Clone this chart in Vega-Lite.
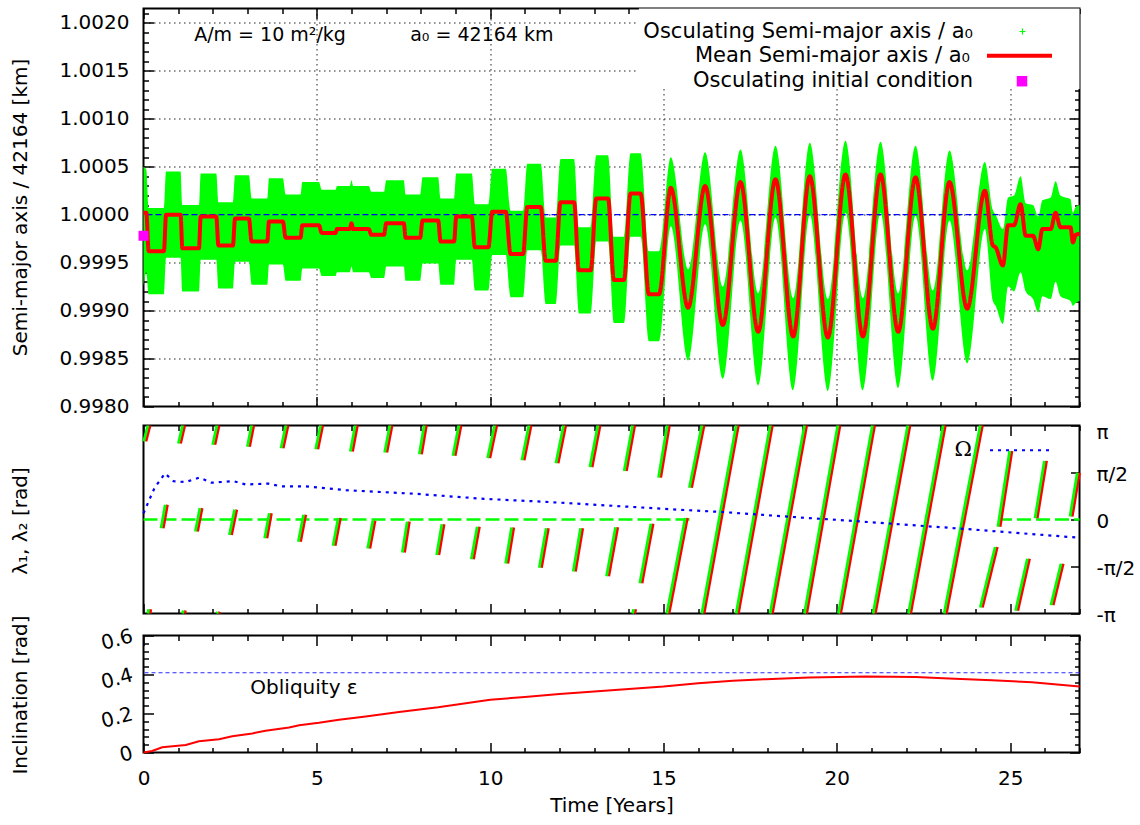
{
  "$schema": "https://vega.github.io/schema/vega-lite/v6.json",
  "padding": {"left": 8.5, "top": 6.5, "right": 0, "bottom": 0},
  "background": "white",
  "spacing": 19,
  "bounds": "flush",
  "config": {
    "font": "DejaVu Sans",
    "view": {"stroke": "#000000", "strokeWidth": 2},
    "axis": {"domain": false, "grid": false, "labelFont": "DejaVu Sans", "labelFontSize": 20, "labelColor": "#000000", "titleFont": "DejaVu Sans", "titleFontSize": 20, "titleFontWeight": "normal", "titleColor": "#000000", "tickColor": "#000000", "tickWidth": 1.5, "labelOverlap": false, "labelFlush": false, "zindex": 1},
    "legend": {"labelFont": "DejaVu Sans", "labelFontSize": 21, "labelColor": "#000000", "labelLimit": 0, "padding": 0, "title": null},
    "text": {"font": "DejaVu Sans", "fontSize": 20, "color": "#000000"}
  },
  "resolve": {"scale": {"color": "independent", "shape": "independent", "strokeDash": "independent"}, "legend": {"color": "independent", "shape": "independent", "strokeDash": "independent"}},
  "datasets": {
    "sma": [
      {"t": 0, "m": 1.00002, "hi": 1.0005, "lo": 0.99925},
      {"t": 0.08, "m": 1.00002, "hi": 1.00047, "lo": 0.9994},
      {"t": 0.15, "m": 0.99962, "hi": 1.00007, "lo": 0.99917},
      {"t": 0.59, "m": 0.99962, "hi": 1.00007, "lo": 0.99917},
      {"t": 0.65, "m": 1.0, "hi": 1.00045, "lo": 0.99955},
      {"t": 1.07, "m": 1.0, "hi": 1.00045, "lo": 0.99955},
      {"t": 1.12, "m": 0.99965, "hi": 1.0001, "lo": 0.9992},
      {"t": 1.6, "m": 0.99965, "hi": 1.0001, "lo": 0.9992},
      {"t": 1.65, "m": 0.99998, "hi": 1.00043, "lo": 0.99953},
      {"t": 2.1, "m": 0.99998, "hi": 1.00043, "lo": 0.99953},
      {"t": 2.16, "m": 0.99968, "hi": 1.00013, "lo": 0.99923},
      {"t": 2.58, "m": 0.99968, "hi": 1.00013, "lo": 0.99923},
      {"t": 2.64, "m": 0.99996, "hi": 1.00041, "lo": 0.99951},
      {"t": 3.04, "m": 0.99996, "hi": 1.00041, "lo": 0.99951},
      {"t": 3.12, "m": 0.99972, "hi": 1.00017, "lo": 0.99927},
      {"t": 3.57, "m": 0.99972, "hi": 1.00017, "lo": 0.99927},
      {"t": 3.62, "m": 0.99993, "hi": 1.00038, "lo": 0.99948},
      {"t": 4.02, "m": 0.99993, "hi": 1.00038, "lo": 0.99948},
      {"t": 4.1, "m": 0.99976, "hi": 1.00021, "lo": 0.99931},
      {"t": 4.53, "m": 0.99976, "hi": 1.00021, "lo": 0.99931},
      {"t": 4.58, "m": 0.99989, "hi": 1.00034, "lo": 0.99944},
      {"t": 5.06, "m": 0.99989, "hi": 1.00034, "lo": 0.99944},
      {"t": 5.14, "m": 0.99981, "hi": 1.00026, "lo": 0.99936},
      {"t": 5.54, "m": 0.99981, "hi": 1.00026, "lo": 0.99936},
      {"t": 5.58, "m": 0.99985, "hi": 1.0003, "lo": 0.9994},
      {"t": 5.95, "m": 0.99985, "hi": 1.0003, "lo": 0.9994},
      {"t": 6.0, "m": 0.99991, "hi": 1.00036, "lo": 0.99946},
      {"t": 6.05, "m": 0.99985, "hi": 1.0003, "lo": 0.9994},
      {"t": 6.5, "m": 0.99985, "hi": 1.0003, "lo": 0.9994},
      {"t": 6.57, "m": 0.99979, "hi": 1.00024, "lo": 0.99934},
      {"t": 6.94, "m": 0.99979, "hi": 1.00024, "lo": 0.99934},
      {"t": 7.0, "m": 0.99991, "hi": 1.00036, "lo": 0.99946},
      {"t": 7.51, "m": 0.99991, "hi": 1.00036, "lo": 0.99946},
      {"t": 7.56, "m": 0.99976, "hi": 1.00021, "lo": 0.99931},
      {"t": 7.98, "m": 0.99976, "hi": 1.00021, "lo": 0.99931},
      {"t": 8.05, "m": 0.99994, "hi": 1.00039, "lo": 0.99949},
      {"t": 8.5, "m": 0.99994, "hi": 1.00039, "lo": 0.99949},
      {"t": 8.57, "m": 0.99972, "hi": 1.00017, "lo": 0.99927},
      {"t": 8.96, "m": 0.99972, "hi": 1.00017, "lo": 0.99927},
      {"t": 9.02, "m": 0.99998, "hi": 1.00043, "lo": 0.99953},
      {"t": 9.47, "m": 0.99998, "hi": 1.00043, "lo": 0.99953},
      {"t": 9.56, "m": 0.99966, "hi": 1.00011, "lo": 0.99921},
      {"t": 9.95, "m": 0.99966, "hi": 1.00011, "lo": 0.99921},
      {"t": 10.06, "m": 1.00003, "hi": 1.00048, "lo": 0.99958},
      {"t": 10.45, "m": 1.00003, "hi": 1.00048, "lo": 0.99958},
      {"t": 10.59, "m": 0.99959, "hi": 1.00004, "lo": 0.99914},
      {"t": 10.95, "m": 0.99959, "hi": 1.00004, "lo": 0.99914},
      {"t": 11.07, "m": 1.00008, "hi": 1.00053, "lo": 0.99963},
      {"t": 11.46, "m": 1.00008, "hi": 1.00053, "lo": 0.99963},
      {"t": 11.6, "m": 0.99952, "hi": 0.99997, "lo": 0.99907},
      {"t": 11.89, "m": 0.99952, "hi": 0.99997, "lo": 0.99907},
      {"t": 12.03, "m": 1.00013, "hi": 1.00058, "lo": 0.99968},
      {"t": 12.42, "m": 1.00013, "hi": 1.00058, "lo": 0.99968},
      {"t": 12.56, "m": 0.99942, "hi": 0.99987, "lo": 0.99897},
      {"t": 12.9, "m": 0.99942, "hi": 0.99987, "lo": 0.99897},
      {"t": 13.06, "m": 1.00017, "hi": 1.00062, "lo": 0.99972},
      {"t": 13.4, "m": 1.00017, "hi": 1.00062, "lo": 0.99972},
      {"t": 13.57, "m": 0.99932, "hi": 0.99977, "lo": 0.99887},
      {"t": 13.86, "m": 0.99932, "hi": 0.99977, "lo": 0.99887},
      {"t": 14.05, "m": 1.00022, "hi": 1.00064, "lo": 0.99977},
      {"t": 14.34, "m": 1.00022, "hi": 1.00064, "lo": 0.99977},
      {"t": 14.58, "m": 0.99917, "hi": 0.99962, "lo": 0.99868},
      {"t": 14.87, "m": 0.99917, "hi": 0.99962, "lo": 0.99868},
      {"t": 15.21, "m": 1.00028, "hi": 1.0006, "lo": 0.99988},
      {"t": 15.71, "m": 0.99903, "hi": 0.99943, "lo": 0.99848},
      {"t": 16.2, "m": 1.0003, "hi": 1.00065, "lo": 0.9999},
      {"t": 16.71, "m": 0.99885, "hi": 0.99925, "lo": 0.99829},
      {"t": 17.22, "m": 1.00034, "hi": 1.00068, "lo": 0.99994},
      {"t": 17.73, "m": 0.99878, "hi": 0.99918, "lo": 0.99822},
      {"t": 18.23, "m": 1.00037, "hi": 1.00072, "lo": 0.99997},
      {"t": 18.74, "m": 0.99873, "hi": 0.99913, "lo": 0.99817},
      {"t": 19.22, "m": 1.0004, "hi": 1.00075, "lo": 1.0},
      {"t": 19.74, "m": 0.99872, "hi": 0.99912, "lo": 0.99816},
      {"t": 20.25, "m": 1.00042, "hi": 1.00077, "lo": 1.00002},
      {"t": 20.75, "m": 0.99873, "hi": 0.99913, "lo": 0.99817},
      {"t": 21.26, "m": 1.00042, "hi": 1.00076, "lo": 1.00002},
      {"t": 21.77, "m": 0.99878, "hi": 0.99918, "lo": 0.99819},
      {"t": 22.27, "m": 1.00039, "hi": 1.00072, "lo": 0.99999},
      {"t": 22.77, "m": 0.99881, "hi": 0.99921, "lo": 0.99827},
      {"t": 23.25, "m": 1.00034, "hi": 1.00067, "lo": 0.99994},
      {"t": 23.76, "m": 0.99902, "hi": 0.99942, "lo": 0.99845},
      {"t": 24.27, "m": 1.00025, "hi": 1.00055, "lo": 0.99985},
      {"t": 24.5, "m": 0.99968, "hi": 1.00005, "lo": 0.9991},
      {"t": 24.58, "m": 0.99966, "hi": 1.0, "lo": 0.99905},
      {"t": 24.79, "m": 0.99947, "hi": 0.99985, "lo": 0.99886},
      {"t": 24.94, "m": 0.99989, "hi": 1.00018, "lo": 0.99925},
      {"t": 25.11, "m": 0.99989, "hi": 1.0002, "lo": 0.9992},
      {"t": 25.3, "m": 1.00011, "hi": 1.0004, "lo": 0.9994},
      {"t": 25.45, "m": 0.99978, "hi": 1.00012, "lo": 0.9992},
      {"t": 25.66, "m": 0.99978, "hi": 1.0001, "lo": 0.99912},
      {"t": 25.81, "m": 0.99964, "hi": 0.99998, "lo": 0.99898},
      {"t": 25.93, "m": 0.99985, "hi": 1.00015, "lo": 0.99915},
      {"t": 26.17, "m": 0.99985, "hi": 1.00018, "lo": 0.99912},
      {"t": 26.31, "m": 1.00002, "hi": 1.00035, "lo": 0.9993},
      {"t": 26.45, "m": 0.99987, "hi": 1.0002, "lo": 0.99915},
      {"t": 26.74, "m": 0.99987, "hi": 1.00016, "lo": 0.9991},
      {"t": 26.81, "m": 0.99971, "hi": 1.00002, "lo": 0.99905},
      {"t": 26.89, "m": 0.99979, "hi": 1.00008, "lo": 0.99908},
      {"t": 27.0, "m": 0.9998, "hi": 1.0001, "lo": 0.9991}
    ],
    "seg": [
      {"t1": 0.07, "v1": 2.61, "t2": 0.19, "v2": 3.1416},
      {"t1": 1.07, "v1": 2.54, "t2": 1.19, "v2": 3.1416},
      {"t1": 2.06, "v1": 2.5, "t2": 2.18, "v2": 3.1416},
      {"t1": 3.06, "v1": 2.43, "t2": 3.18, "v2": 3.1416},
      {"t1": 4.03, "v1": 2.38, "t2": 4.17, "v2": 3.1416},
      {"t1": 5.03, "v1": 2.35, "t2": 5.17, "v2": 3.1416},
      {"t1": 6.03, "v1": 2.27, "t2": 6.17, "v2": 3.1416},
      {"t1": 7.02, "v1": 2.24, "t2": 7.17, "v2": 3.1416},
      {"t1": 8.02, "v1": 2.18, "t2": 8.16, "v2": 3.1416},
      {"t1": 8.99, "v1": 2.13, "t2": 9.16, "v2": 3.1416},
      {"t1": 9.99, "v1": 2.05, "t2": 10.19, "v2": 3.1416},
      {"t1": 10.98, "v1": 1.98, "t2": 11.18, "v2": 3.1416},
      {"t1": 11.96, "v1": 1.88, "t2": 12.18, "v2": 3.1416},
      {"t1": 12.94, "v1": 1.75, "t2": 13.17, "v2": 3.1416},
      {"t1": 13.93, "v1": 1.62, "t2": 14.17, "v2": 3.1416},
      {"t1": 14.92, "v1": 1.4, "t2": 15.17, "v2": 3.1416},
      {"t1": 15.81, "v1": 1.06, "t2": 16.17, "v2": 3.1416},
      {"t1": 0.19, "v1": -3.1416, "t2": 0.21, "v2": -3.0},
      {"t1": 1.19, "v1": -3.1416, "t2": 1.21, "v2": -3.04},
      {"t1": 2.18, "v1": -3.1416, "t2": 2.2, "v2": -3.08},
      {"t1": 14.17, "v1": -3.1416, "t2": 14.2, "v2": -3.0},
      {"t1": 0.57, "v1": -0.29, "t2": 0.69, "v2": 0.49},
      {"t1": 1.56, "v1": -0.4, "t2": 1.69, "v2": 0.38},
      {"t1": 2.54, "v1": -0.52, "t2": 2.69, "v2": 0.33},
      {"t1": 3.56, "v1": -0.63, "t2": 3.69, "v2": 0.21},
      {"t1": 4.53, "v1": -0.74, "t2": 4.68, "v2": 0.16},
      {"t1": 5.53, "v1": -0.88, "t2": 5.68, "v2": 0.05},
      {"t1": 6.53, "v1": -0.97, "t2": 6.68, "v2": -0.04},
      {"t1": 7.53, "v1": -1.1, "t2": 7.67, "v2": -0.07},
      {"t1": 8.52, "v1": -1.19, "t2": 8.67, "v2": -0.16},
      {"t1": 9.52, "v1": -1.33, "t2": 9.69, "v2": -0.24},
      {"t1": 10.51, "v1": -1.47, "t2": 10.68, "v2": -0.27},
      {"t1": 11.48, "v1": -1.61, "t2": 11.68, "v2": -0.29},
      {"t1": 12.46, "v1": -1.74, "t2": 12.67, "v2": -0.29},
      {"t1": 13.42, "v1": -1.9, "t2": 13.68, "v2": -0.26},
      {"t1": 14.38, "v1": -2.13, "t2": 14.7, "v2": -0.14},
      {"t1": 15.16, "v1": -3.1416, "t2": 15.69, "v2": 0.05},
      {"t1": 16.17, "v1": -3.1416, "t2": 17.16, "v2": 3.1416},
      {"t1": 17.16, "v1": -3.1416, "t2": 18.14, "v2": 3.1416},
      {"t1": 18.14, "v1": -3.1416, "t2": 19.13, "v2": 3.1416},
      {"t1": 19.13, "v1": -3.1416, "t2": 20.09, "v2": 3.1416},
      {"t1": 20.11, "v1": -3.1416, "t2": 21.09, "v2": 3.1416},
      {"t1": 21.11, "v1": -3.1416, "t2": 22.11, "v2": 3.1416},
      {"t1": 22.13, "v1": -3.1416, "t2": 23.13, "v2": 3.1416},
      {"t1": 23.16, "v1": -3.1416, "t2": 24.2, "v2": 3.1416},
      {"t1": 24.2, "v1": -2.94, "t2": 24.63, "v2": -0.92},
      {"t1": 24.71, "v1": -0.24, "t2": 25.05, "v2": 2.29},
      {"t1": 25.22, "v1": -3.05, "t2": 25.56, "v2": -1.31},
      {"t1": 25.78, "v1": 0.04, "t2": 26.05, "v2": 1.96},
      {"t1": 26.24, "v1": -2.86, "t2": 26.53, "v2": -1.48},
      {"t1": 26.79, "v1": 0.1, "t2": 27.0, "v2": 1.56}
    ],
    "zero": [
      {"t1": 0, "t2": 15.8},
      {"t1": 24.65, "t2": 27}
    ],
    "omega": [
      {"t": 0, "om": 0.21}, {"t": 0.32, "om": 1.06}, {"t": 0.62, "om": 1.54}, {"t": 0.87, "om": 1.28},
      {"t": 1.21, "om": 1.25}, {"t": 1.61, "om": 1.4}, {"t": 1.96, "om": 1.23}, {"t": 2.6, "om": 1.28},
      {"t": 2.95, "om": 1.17}, {"t": 3.6, "om": 1.2}, {"t": 3.95, "om": 1.11}, {"t": 4.64, "om": 1.11},
      {"t": 5.84, "om": 0.98}, {"t": 7.83, "om": 0.86}, {"t": 9.82, "om": 0.69}, {"t": 11.6, "om": 0.59},
      {"t": 13.8, "om": 0.44}, {"t": 15.4, "om": 0.33}, {"t": 16.7, "om": 0.25}, {"t": 18.9, "om": 0.07},
      {"t": 20.0, "om": -0.01}, {"t": 23.76, "om": -0.32}, {"t": 27.0, "om": -0.61}
    ],
    "inc": [
      {"t": 0, "i": 0.0}, {"t": 0.25, "i": 0.008}, {"t": 0.54, "i": 0.027}, {"t": 1.22, "i": 0.039},
      {"t": 1.6, "i": 0.058}, {"t": 2.18, "i": 0.068}, {"t": 2.56, "i": 0.083}, {"t": 3.14, "i": 0.098},
      {"t": 3.52, "i": 0.112}, {"t": 4.2, "i": 0.128}, {"t": 4.49, "i": 0.14}, {"t": 5.06, "i": 0.152},
      {"t": 5.64, "i": 0.168}, {"t": 6.41, "i": 0.185}, {"t": 7.37, "i": 0.208}, {"t": 8.5, "i": 0.232},
      {"t": 10, "i": 0.27}, {"t": 11, "i": 0.285}, {"t": 12, "i": 0.3}, {"t": 13, "i": 0.313},
      {"t": 14, "i": 0.326}, {"t": 15, "i": 0.338}, {"t": 16, "i": 0.355}, {"t": 17, "i": 0.368},
      {"t": 17.95, "i": 0.376}, {"t": 19.2, "i": 0.385}, {"t": 20.83, "i": 0.39}, {"t": 22.27, "i": 0.387},
      {"t": 23.23, "i": 0.38}, {"t": 24.47, "i": 0.37}, {"t": 25.63, "i": 0.36}, {"t": 27, "i": 0.338}
    ]
  },
  "vconcat": [
    {
      "width": 936,
      "height": 398,
      "resolve": {"axis": {"x": "independent", "y": "independent"}},
      "layer": [
        {
          "data": {"name": "sma"},
          "mark": {"type": "area", "color": "#00ff00", "interpolate": "monotone", "opacity": 1},
          "encoding": {
            "x": {"field": "t", "type": "quantitative", "scale": {"domain": [0, 27], "nice": false, "zero": false},
              "axis": {"orient": "bottom", "values": [5, 10, 15, 20, 25], "labels": false, "ticks": false, "title": null, "zindex": 0,
                "grid": true, "gridDash": [1.5, 3.5], "gridColor": "#222222", "gridWidth": 1}},
            "y": {"field": "hi", "type": "quantitative", "scale": {"domain": [0.998, 1.00215], "nice": false, "zero": false},
              "axis": {"orient": "left", "values": [0.9985, 0.999, 0.9995, 1, 1.0005, 1.001, 1.0015, 1.002], "labels": false, "ticks": false, "title": null, "zindex": 0,
                "grid": true, "gridDash": [1.5, 3.5], "gridColor": "#222222", "gridWidth": 1}},
            "y2": {"field": "lo"}
          }
        },
        {
          "data": {"values": [{}]},
          "mark": {"type": "rect", "color": "#ffffff"},
          "encoding": {
            "x": {"datum": 14.29, "axis": null}, "x2": {"datum": 27},
            "y": {"datum": 1.00131, "axis": null}, "y2": {"datum": 1.00215}
          }
        },
        {
          "data": {"values": [{}]},
          "mark": {"type": "rule", "color": "#0000ff", "strokeWidth": 1.3, "strokeDash": [6, 3]},
          "encoding": {"y": {"datum": 1.0, "axis": null}}
        },
        {
          "data": {"name": "sma"},
          "mark": {"type": "line", "color": "#ff0000", "strokeWidth": 4, "interpolate": "monotone"},
          "encoding": {
            "x": {"field": "t", "type": "quantitative",
              "axis": {"orient": "top", "values": [0,1,2,3,4,5,6,7,8,9,10,11,12,13,14,15,16,17,18,19,20,21,22,23,24,25,26,27], "labels": false, "title": null,
                "tickSize": {"condition": {"test": "datum.value % 5 === 0", "value": -10}, "value": -5}}},
            "y": {"field": "m", "type": "quantitative",
              "axis": {"orient": "right", "values": [0.998,0.9981,0.9982,0.9983,0.9984,0.9985,0.9986,0.9987,0.9988,0.9989,0.999,0.9991,0.9992,0.9993,0.9994,0.9995,0.9996,0.9997,0.9998,0.9999,1,1.0001,1.0002,1.0003,1.0004,1.0005,1.0006,1.0007,1.0008,1.0009,1.001,1.0011,1.0012,1.0013,1.0014,1.0015,1.0016,1.0017,1.0018,1.0019,1.002,1.0021],
                "labels": false, "title": null,
                "tickSize": {"condition": {"test": "round(datum.value*10000) % 5 === 0", "value": -10}, "value": -5}}},
            "strokeDash": {"datum": "Mean Semi-major axis / a₀", "scale": {"domain": ["Mean Semi-major axis / a₀"], "range": [[1, 0]]},
              "legend": {"orient": "none", "legendX": 841.5, "legendY": 12.7, "zindex": 2,
                "symbolType": "stroke", "symbolSize": 4225, "symbolStrokeColor": "#ff0000", "symbolStrokeWidth": 4,
                "labelAlign": "right", "labelOffset": -84}}
          }
        },
        {
          "data": {"values": [{"t": 0, "v": 0.99978}]},
          "mark": {"type": "point", "shape": "square", "filled": true, "size": 100, "opacity": 1},
          "encoding": {
            "x": {"field": "t", "type": "quantitative", "axis": null},
            "y": {"field": "v", "type": "quantitative", "axis": null},
            "color": {"datum": "Osculating initial condition", "scale": {"domain": ["Osculating initial condition"], "range": ["#ff00ff"]},
              "legend": {"orient": "none", "legendX": 868, "legendY": 62.2, "zindex": 2,
                "symbolType": "square", "symbolSize": 110, "symbolStrokeWidth": 0, "symbolOpacity": 1,
                "labelAlign": "right", "labelOffset": -59.5}}
          }
        },
        {
          "data": {"values": []},
          "mark": {"type": "point", "filled": false, "color": "#00ff00", "strokeWidth": 1.2, "opacity": 1},
          "encoding": {
            "x": {"field": "t", "type": "quantitative", "axis": null},
            "y": {"field": "v", "type": "quantitative", "axis": null},
            "shape": {"datum": "Osculating Semi-major axis / a₀", "scale": {"domain": ["Osculating Semi-major axis / a₀"], "range": ["M-1,0H1M0,-1V1"]},
              "legend": {"orient": "none", "legendX": 868.5, "legendY": 12.5, "zindex": 2,
                "symbolSize": 36, "symbolStrokeWidth": 1.2, "symbolStrokeColor": "#00ff00", "symbolOpacity": 1,
                "labelAlign": "right", "labelOffset": -60}}
          }
        },
        {
          "data": {"values": [{}]},
          "mark": {"type": "text", "text": "A/m = 10 m²/kg", "fontSize": 19, "baseline": "middle", "align": "center"},
          "encoding": {
            "x": {"datum": 3.65,
              "axis": {"orient": "bottom", "values": [0,1,2,3,4,5,6,7,8,9,10,11,12,13,14,15,16,17,18,19,20,21,22,23,24,25,26,27], "labels": false, "title": null,
                "tickSize": {"condition": {"test": "datum.value % 5 === 0", "value": -10}, "value": -5}}},
            "y": {"datum": 1.00187,
              "axis": {"orient": "left", "values": [0.998,0.9981,0.9982,0.9983,0.9984,0.9985,0.9986,0.9987,0.9988,0.9989,0.999,0.9991,0.9992,0.9993,0.9994,0.9995,0.9996,0.9997,0.9998,0.9999,1,1.0001,1.0002,1.0003,1.0004,1.0005,1.0006,1.0007,1.0008,1.0009,1.001,1.0011,1.0012,1.0013,1.0014,1.0015,1.0016,1.0017,1.0018,1.0019,1.002,1.0021],
                "format": ".4f", "labelExpr": "round(datum.value*10000) % 5 === 0 ? datum.label : ''",
                "labelFontSize": {"condition": {"test": "round(datum.value*10000) % 5 === 0", "value": 20}, "value": 0},
                "tickSize": {"condition": {"test": "round(datum.value*10000) % 5 === 0", "value": -10}, "value": -5},
                "labelPadding": 24.5,
                "title": "Semi-major axis / 42164 [km]", "titleX": -123.5, "titleY": 198.5, "titleBaseline": "middle", "titleAlign": "center"}}
          }
        },
        {
          "data": {"values": [{}]},
          "mark": {"type": "text", "text": "a₀ = 42164 km", "fontSize": 19, "baseline": "middle", "align": "center"},
          "encoding": {"x": {"datum": 9.76, "axis": null}, "y": {"datum": 1.00187, "axis": null}}
        }
      ]
    },
    {
      "spacing": 22,
      "bounds": "flush",
      "resolve": {"scale": {"color": "independent", "shape": "independent", "strokeDash": "independent"}, "legend": {"color": "independent", "shape": "independent", "strokeDash": "independent"}},
      "vconcat": [
        {
          "width": 936,
          "height": 188,
          "resolve": {"axis": {"x": "independent", "y": "independent"}},
          "layer": [
            {
              "data": {"name": "zero"},
              "mark": {"type": "rule", "color": "#00ff00", "strokeWidth": 2.5, "strokeDash": [14, 5]},
              "encoding": {
                "x": {"field": "t1", "type": "quantitative", "scale": {"domain": [0, 27], "nice": false, "zero": false}, "axis": null},
                "x2": {"field": "t2"},
                "y": {"datum": 0, "scale": {"domain": [-3.14159, 3.14159], "nice": false, "zero": false}, "axis": null}
              }
            },
            {
              "data": {"name": "seg"},
              "mark": {"type": "rule", "color": "#ff0000", "strokeWidth": 2.8},
              "encoding": {
                "x": {"field": "t1", "type": "quantitative", "scale": {"domain": [0, 27], "nice": false, "zero": false},
                  "axis": {"orient": "bottom", "values": [0,1,2,3,4,5,6,7,8,9,10,11,12,13,14,15,16,17,18,19,20,21,22,23,24,25,26,27], "labels": false, "title": null,
                    "tickSize": {"condition": {"test": "datum.value % 5 === 0", "value": -10}, "value": -5}}},
                "x2": {"field": "t2"},
                "y": {"field": "v1", "type": "quantitative", "scale": {"domain": [-3.14159, 3.14159], "nice": false, "zero": false},
                  "axis": {"orient": "left", "labels": false, "ticks": false, "title": "λ₁, λ₂ [rad]", "titleX": -123.5, "titleY": 95, "titleBaseline": "middle", "titleAlign": "center"}},
                "y2": {"field": "v2"}
              }
            },
            {
              "data": {"name": "seg"},
              "mark": {"type": "rule", "color": "#00ff00", "strokeWidth": 2.8, "xOffset": -2.2, "x2Offset": -2.2},
              "encoding": {
                "x": {"field": "t1", "type": "quantitative",
                  "axis": {"orient": "top", "values": [0,1,2,3,4,5,6,7,8,9,10,11,12,13,14,15,16,17,18,19,20,21,22,23,24,25,26,27], "labels": false, "title": null,
                    "tickSize": {"condition": {"test": "datum.value % 5 === 0", "value": -10}, "value": -5}}},
                "x2": {"field": "t2"},
                "y": {"field": "v1", "type": "quantitative",
                  "axis": {"orient": "right", "values": [-3.14159, -1.5708, 0, 1.5708, 3.14159], "title": null, "tickSize": -9, "labelPadding": 25.5, "labelAlign": "left", "labelBaseline": "middle",
                    "labelOffset": {"condition": {"test": "datum.value > 3", "value": 7}, "value": 2},
                    "labelExpr": "datum.value > 3 ? 'π' : datum.value > 1 ? 'π/2' : datum.value > -1 ? '0' : datum.value > -3 ? '-π/2' : '-π'"}},
                "y2": {"field": "v2"}
              }
            },
            {
              "data": {"name": "omega"},
              "mark": {"type": "line", "color": "#0000ff", "strokeWidth": 2.2},
              "encoding": {
                "x": {"field": "t", "type": "quantitative", "axis": null},
                "y": {"field": "om", "type": "quantitative", "axis": null},
                "strokeDash": {"datum": "Ω", "scale": {"domain": ["Ω"], "range": [[3, 5]]},
                  "legend": {"orient": "none", "legendX": 845.5, "legendY": -8.3, "zindex": 2,
                    "symbolType": "stroke", "symbolSize": 4096, "symbolStrokeColor": "#0000ff", "symbolStrokeWidth": 2,
                    "labelFont": "DejaVu Serif", "labelFontSize": 21, "labelAlign": "right", "labelOffset": -83}}
              }
            }
          ]
        },
        {
          "width": 936,
          "height": 117,
          "resolve": {"axis": {"x": "independent", "y": "independent"}},
          "layer": [
            {
              "data": {"values": [{}]},
              "mark": {"type": "rule", "color": "#2a2aff", "strokeWidth": 1.2, "strokeDash": [4, 3]},
              "encoding": {"y": {"datum": 0.409, "scale": {"domain": [0, 0.6], "nice": false, "zero": false}, "axis": null}}
            },
            {
              "data": {"name": "inc"},
              "mark": {"type": "line", "color": "#ff0000", "strokeWidth": 2},
              "encoding": {
                "x": {"field": "t", "type": "quantitative", "scale": {"domain": [0, 27], "nice": false, "zero": false},
                  "axis": {"orient": "bottom", "values": [0,1,2,3,4,5,6,7,8,9,10,11,12,13,14,15,16,17,18,19,20,21,22,23,24,25,26,27],
                    "labelExpr": "datum.value % 5 === 0 ? datum.label : ''", "labelPadding": 26,
                    "tickSize": {"condition": {"test": "datum.value % 5 === 0", "value": -10}, "value": -5},
                    "title": "Time [Years]", "titlePadding": 2}},
                "y": {"field": "i", "type": "quantitative", "scale": {"domain": [0, 0.6], "nice": false, "zero": false},
                  "axis": {"orient": "left", "values": [0,0.04,0.08,0.12,0.16,0.2,0.24,0.28,0.32,0.36,0.4,0.44,0.48,0.52,0.56,0.6],
                    "labelExpr": "round(datum.value*100) % 20 === 0 ? (datum.value === 0 ? '0' : format(datum.value, '.1f')) : ''",
                    "labelFontSize": {"condition": {"test": "round(datum.value*100) % 20 === 0", "value": 20}, "value": 0},
                    "labelAngle": -15, "labelAlign": "right", "labelBaseline": "middle", "labelPadding": 21.5,
                    "tickSize": {"condition": {"test": "round(datum.value*100) % 20 === 0", "value": -10}, "value": -5},
                    "title": "Inclination [rad]", "titleX": -123.5, "titleY": 59, "titleBaseline": "middle", "titleAlign": "center"}}
              }
            },
            {
              "data": {"values": [{}]},
              "mark": {"type": "text", "text": "Obliquity  ε", "fontSize": 20, "baseline": "middle", "align": "center"},
              "encoding": {
                "x": {"datum": 4.63,
                  "axis": {"orient": "top", "values": [0,1,2,3,4,5,6,7,8,9,10,11,12,13,14,15,16,17,18,19,20,21,22,23,24,25,26,27], "labels": false, "title": null,
                    "tickSize": {"condition": {"test": "datum.value % 5 === 0", "value": -10}, "value": -5}}},
                "y": {"datum": 0.333,
                  "axis": {"orient": "right", "values": [0,0.04,0.08,0.12,0.16,0.2,0.24,0.28,0.32,0.36,0.4,0.44,0.48,0.52,0.56,0.6], "labels": false, "title": null,
                    "tickSize": {"condition": {"test": "round(datum.value*100) % 20 === 0", "value": -10}, "value": -5}}}
              }
            }
          ]
        }
      ]
    }
  ]
}
